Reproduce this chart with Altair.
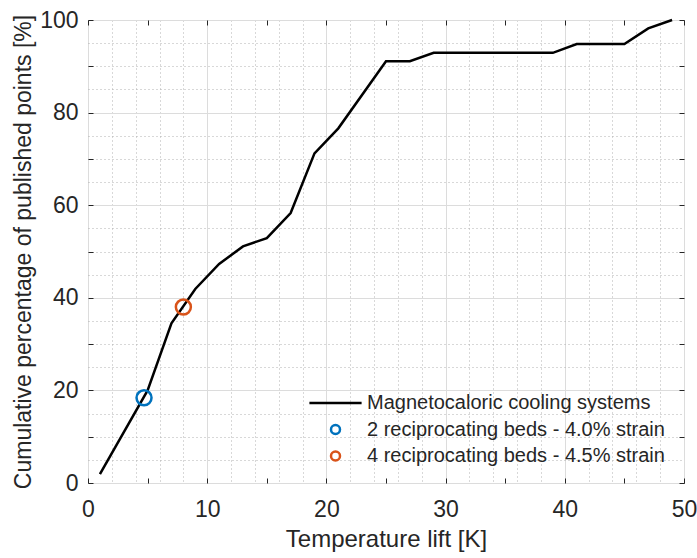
import altair as alt
import pandas as pd

# ---- data ----
lift_x = [1, 5, 7, 9, 11, 13, 15, 17, 19, 21, 25, 27, 29, 39, 41, 45, 47, 49]
pct_y = [1.9, 20.0, 34.5, 41.9, 47.3, 51.1, 52.9, 58.3, 71.2, 76.6, 91.1, 91.1,
         92.9, 92.9, 94.8, 94.8, 98.2, 100.0]

marker_x = [4.7, 8.0]
marker_y = [18.4, 38.0]
marker_names = ["2 reciprocating beds - 4.0% strain",
                "4 reciprocating beds - 4.5% strain"]

line_name = "Magnetocaloric cooling systems"
series_names = [line_name] + marker_names
series_colors = ["#000000", "#0072BD", "#D95319"]

x_grid = [0, 2, 4, 6, 8, 10, 12, 14, 16, 18, 20, 22, 24, 26, 28, 30, 32, 34,
          36, 38, 40, 42, 44, 46, 48, 50]
y_grid = [0, 5, 10, 15, 20, 25, 30, 35, 40, 45, 50, 55, 60, 65, 70, 75, 80,
          85, 90, 95, 100]
x_major = [0, 10, 20, 30, 40, 50]
y_major = [0, 20, 40, 60, 80, 100]

W, H = 596, 463
FONT = "Liberation Sans"
TXT = "#262626"

df_line = pd.DataFrame({"lift": lift_x, "pct": pct_y})
df_pts = pd.DataFrame({"lift": marker_x, "pct": marker_y, "series": marker_names})

xscale = alt.Scale(domain=[0, 50], nice=False, zero=False)
yscale = alt.Scale(domain=[0, 100], nice=False, zero=False)

main_x_axis = alt.Axis(
    values=x_grid, grid=True, ticks=False, domain=False,
    labelExpr="datum.value % 10 === 0 ? datum.label : ''",
    gridDash={"condition": {"test": "datum.value % 10 === 0", "value": []}, "value": [1, 3]},
    gridColor={"condition": {"test": "datum.value % 10 === 0", "value": "#dcdcdc"}, "value": "#b0b0b0"},
    gridWidth=1, labelFontSize=23, labelFont=FONT, labelColor=TXT, labelPadding=15,
    titleFontSize=24, titleFont=FONT, titleFontWeight="normal", titleColor=TXT,
    titlePadding=6, labelFlush=False, labelOverlap=False,
)
main_y_axis = alt.Axis(
    values=y_grid, grid=True, ticks=False, domain=False,
    labelExpr="datum.value % 20 === 0 ? datum.label : ''",
    gridDash={"condition": {"test": "datum.value % 20 === 0", "value": []}, "value": [1, 3]},
    gridColor={"condition": {"test": "datum.value % 20 === 0", "value": "#dcdcdc"}, "value": "#b0b0b0"},
    gridWidth=1, labelFontSize=23, labelFont=FONT, labelColor=TXT, labelPadding=10,
    titleFontSize=23, titleFont=FONT, titleFontWeight="normal", titleColor=TXT,
    titlePadding=4, labelFlush=False, labelOverlap=False,
)

line = alt.Chart(df_line).mark_line(color="black", strokeWidth=2.5).encode(
    x=alt.X("lift:Q", scale=xscale, axis=main_x_axis, title="Temperature lift [K]"),
    y=alt.Y("pct:Q", scale=yscale, axis=main_y_axis,
            title="Cumulative percentage of published points [%]"),
)

legend_cfg = dict(
    orient="none", legendX=237.5, legendY=373, title=None,
    labelFont=FONT, labelFontSize=20, labelColor=TXT, labelOffset=21.5,
    symbolSize=81, symbolStrokeWidth=2.5, rowPadding=6.5, padding=0,
    labelLimit=400,
)

points = alt.Chart(df_pts).mark_point(filled=False, size=225, strokeWidth=2.5, opacity=1).encode(
    x=alt.X("lift:Q", scale=xscale, axis=None),
    y=alt.Y("pct:Q", scale=yscale, axis=None),
    color=alt.Color("series:N", scale=alt.Scale(domain=series_names, range=series_colors),
                    legend=alt.Legend(**legend_cfg)),
    shape=alt.Shape("series:N", scale=alt.Scale(domain=series_names,
                                                range=["M-5.8,0H5.8", "circle", "circle"]),
                    legend=alt.Legend(**legend_cfg)),
)

def tick_axis(orient, offset):
    return alt.Axis(orient=orient, offset=offset, labels=False, grid=False, domain=False,
                    ticks=True, tickSize=5, tickColor=TXT, tickWidth=1, title=None)

ticks_bottom = alt.Chart(pd.DataFrame({"v": x_major})).mark_point(opacity=0).encode(
    x=alt.X("v:Q", scale=xscale, axis=tick_axis("top", -H)))
ticks_top = alt.Chart(pd.DataFrame({"v": x_major})).mark_point(opacity=0).encode(
    x=alt.X("v:Q", scale=xscale, axis=tick_axis("bottom", -H)))
ticks_left = alt.Chart(pd.DataFrame({"v": y_major})).mark_point(opacity=0).encode(
    y=alt.Y("v:Q", scale=yscale, axis=tick_axis("right", -W)))
ticks_right = alt.Chart(pd.DataFrame({"v": y_major})).mark_point(opacity=0).encode(
    y=alt.Y("v:Q", scale=yscale, axis=tick_axis("left", -W)))

chart = alt.layer(line, points, ticks_bottom, ticks_top, ticks_left, ticks_right).resolve_axis(
    x="independent", y="independent"
).properties(
    width=W, height=H, autosize=alt.AutoSizeParams(type="none"),
    padding={"left": 88, "top": 20, "right": 13, "bottom": 75},
    background="white",
).configure_view(stroke=TXT, strokeWidth=1)

chart.save("out.html", embed_options={"renderer": "svg", "actions": False})
